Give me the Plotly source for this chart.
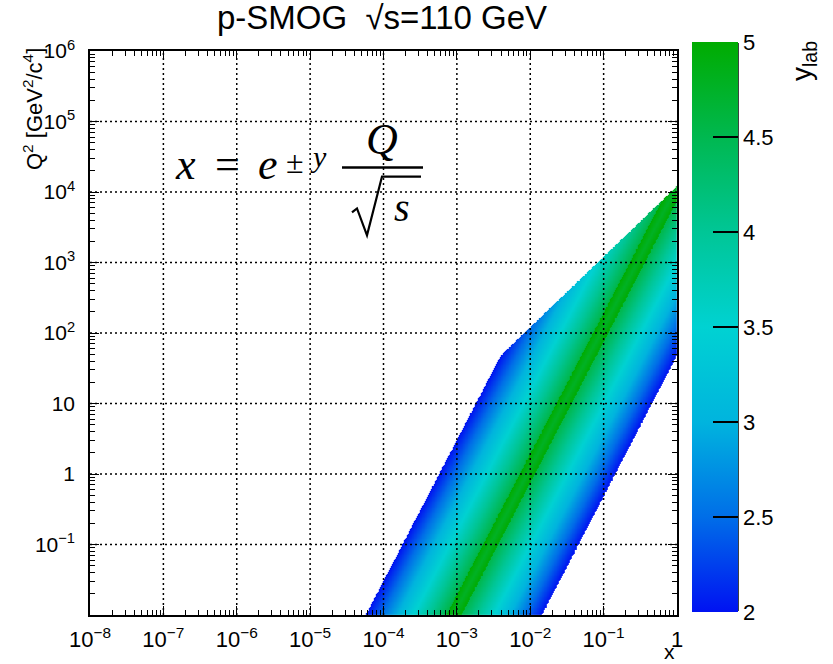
import numpy as np
import plotly.graph_objects as go

# ---------------- data / physics parameters ----------------
sqrt_s_GeV = 110.0            # centre-of-mass energy
proton_mass_GeV = 0.938
y_lab_min = 2.0               # lab rapidity acceptance
y_lab_max = 5.0

x_range_log = [-8, 0]
q2_range_log = [-2, 6]

x_tick_vals = [1e-8, 1e-7, 1e-6, 1e-5, 1e-4, 1e-3, 1e-2, 1e-1, 1]
x_tick_text = ["10<sup>−8</sup>", "10<sup>−7</sup>", "10<sup>−6</sup>", "10<sup>−5</sup>",
               "10<sup>−4</sup>", "10<sup>−3</sup>", "10<sup>−2</sup>", "10<sup>−1</sup>", "1"]
q2_tick_vals = [1e-1, 1, 10, 1e2, 1e3, 1e4, 1e5, 1e6]
q2_tick_text = ["10<sup>−1</sup>", "1", "10", "10<sup>2</sup>", "10<sup>3</sup>",
                "10<sup>4</sup>", "10<sup>5</sup>", "10<sup>6</sup>"]
x_grid_vals = [1e-7, 1e-6, 1e-5, 1e-4, 1e-3, 1e-2, 1e-1]
q2_grid_vals = [1e-1, 1, 10, 1e2, 1e3, 1e4, 1e5]
cbar_tick_vals = [2, 2.5, 3, 3.5, 4, 4.5, 5]
cbar_tick_text = ["2", "2.5", "3", "3.5", "4", "4.5", "5"]

colorscale = [
    [0.0, "rgb(0,18,242)"],
    [0.1667, "rgb(0,110,232)"],
    [0.333, "rgb(0,180,222)"],
    [0.5, "rgb(0,210,210)"],
    [0.667, "rgb(0,198,150)"],
    [0.833, "rgb(0,184,80)"],
    [1.0, "rgb(0,172,0)"],
]

# ---------------- kinematic coverage x = e^{±y} Q/sqrt(s) ----------------
s = sqrt_s_GeV ** 2
y_cm = np.log(sqrt_s_GeV / proton_mass_GeV)
x_edges = np.logspace(-4.5, 0, 461)
q2_edges = np.logspace(-2, 4.2, 521)
xc = np.sqrt(x_edges[:-1] * x_edges[1:])
q2c = np.sqrt(q2_edges[:-1] * q2_edges[1:])
X, Q2 = np.meshgrid(xc, q2c)
t = np.log(X * sqrt_s_GeV / np.sqrt(Q2))
cand1 = y_cm + t   # point is x1
cand2 = y_cm - t   # point is x2
ok1 = (cand1 >= y_lab_min) & (cand1 <= y_lab_max)
ok2 = (cand2 >= y_lab_min) & (cand2 <= y_lab_max)
partner_ok = (X <= 1) & (Q2 / (s * X) <= 1)
z = np.full(X.shape, np.nan)
z = np.where(ok2, cand2, z)
z = np.where(ok1 & (~ok2 | (cand1 > cand2)), cand1, z)
z = np.where(partner_ok, z, np.nan)
z_list = [[None if np.isnan(v) else round(float(v), 3) for v in row] for row in z]

# ---------------- geometry helpers (pixel -> paper) ----------------
W, H = 833, 664
L, R, T, B = 90, 677, 51, 617
def px(xp):
    return (xp - L) / (R - L)
def py(yp):
    return (B - yp) / (B - T)

fig = go.Figure()
fig.add_trace(go.Heatmap(
    x=x_edges, y=q2_edges, z=z_list, zmin=y_lab_min, zmax=y_lab_max,
    colorscale=colorscale, hoverinfo="skip",
    colorbar=dict(
        thickness=46, thicknessmode="pixels", len=570, lenmode="pixels",
        x=px(692), xanchor="left", y=py(328), yanchor="middle",
        xpad=0, ypad=0, outlinewidth=0,
        ticks="inside", ticklen=25, tickwidth=1.5, tickcolor="black",
        tickmode="array", tickvals=cbar_tick_vals, ticktext=cbar_tick_text,
        tickfont=dict(family="Liberation Sans", size=22, color="black"),
    ),
))

# dotted grid drawn above the band
gx, gy = [], []
for v in x_grid_vals:
    gx += [v, v, None]
    gy += [10 ** q2_range_log[0], 10 ** q2_range_log[1], None]
for v in q2_grid_vals:
    gx += [10 ** x_range_log[0], 10 ** x_range_log[1], None]
    gy += [v, v, None]
fig.add_trace(go.Scatter(x=gx, y=gy, mode="lines", hoverinfo="skip", showlegend=False,
                         line=dict(color="black", width=1.5, dash="2px,3px")))

def minor_vals(lo, hi):
    return [m * 10.0 ** k for k in range(lo, hi) for m in range(2, 10)]

axis_common = dict(
    type="log", showgrid=False, zeroline=False, showline=True, linewidth=1.5,
    linecolor="black", mirror="allticks", ticks="inside", ticklen=9, tickwidth=1.2,
    tickcolor="black", tickmode="array",
)
fig.update_xaxes(**axis_common, range=x_range_log, tickvals=x_tick_vals, ticktext=x_tick_text,
                 tickfont=dict(family="Liberation Sans", size=22, color="black"),
                 minor=dict(ticks="inside", ticklen=5, tickwidth=1, tickcolor="black",
                            tickmode="array", tickvals=minor_vals(-8, 0)),
                 ticklabelstandoff=4)
fig.update_yaxes(**axis_common, range=q2_range_log, tickvals=q2_tick_vals, ticktext=q2_tick_text,
                 tickfont=dict(family="Liberation Sans", size=21, color="black"),
                 minor=dict(ticks="inside", ticklen=5, tickwidth=1, tickcolor="black",
                            tickmode="array", tickvals=minor_vals(-2, 6)),
                 ticklabelstandoff=9)

serif = "Liberation Serif"
ann = []
def a(text, xp, yp, size, family, xanchor="left", yanchor="middle", angle=0):
    ann.append(dict(text=text, x=px(xp), y=py(yp), xref="paper", yref="paper",
                    xanchor=xanchor, yanchor=yanchor, showarrow=False, textangle=angle,
                    font=dict(family=family, size=size, color="black")))

# formula x = e^{±y} Q/sqrt(s)
a("<i>x</i>", 173, 165, 44, serif)
a("=", 227, 165, 44, serif, xanchor="center")
a("<i>e</i>", 256, 165, 44, serif)
a("±", 284, 162, 32, serif)
a("<i>y</i>", 308, 157, 30, serif)
a("<i>Q</i>", 382, 140, 44, serif, xanchor="center")
a("<i>s</i>", 392, 208, 40, serif)

# axis titles
a("Q<sup>2</sup> [GeV<sup>2</sup>/c<sup>4</sup>]", 33, 46, 22, "Liberation Sans",
  xanchor="center", yanchor="top", angle=-90)
a("x", 669, 654, 21, "Liberation Sans", xanchor="center")
a("y<sub>lab</sub>", 803, 39, 28, "Liberation Sans", xanchor="center", yanchor="top", angle=-90)

shapes = [
    dict(type="line", xref="paper", yref="paper", x0=px(342), x1=px(423), y0=py(168), y1=py(168),
         line=dict(color="black", width=2.5)),
    dict(type="path", xref="paper", yref="paper",
         path="M %f,%f L %f,%f L %f,%f L %f,%f L %f,%f" % (
             px(352), py(213), px(357), py(209), px(367), py(236), px(382), py(177), px(421), py(177)),
         line=dict(color="black", width=2.2)),
    dict(type="line", xref="paper", yref="paper", x0=px(738), x1=px(738), y0=py(43), y1=py(613),
         line=dict(color="black", width=1.5)),
]

fig.update_layout(
    width=W, height=H, margin=dict(l=L, r=W - R, t=T, b=H - B),
    paper_bgcolor="white", plot_bgcolor="white", showlegend=False,
    title=dict(text="p-SMOG\u00a0\u00a0√s=110 GeV", x=px(382), xref="paper", xanchor="center",
               y=1 - 17 / H, yref="container", yanchor="middle",
               font=dict(family="Liberation Sans", size=33, color="black")),
    annotations=ann, shapes=shapes,
)
fig.write_html("out.html", config={"displayModeBar": False},
               post_script="document.body.style.margin='0';")
